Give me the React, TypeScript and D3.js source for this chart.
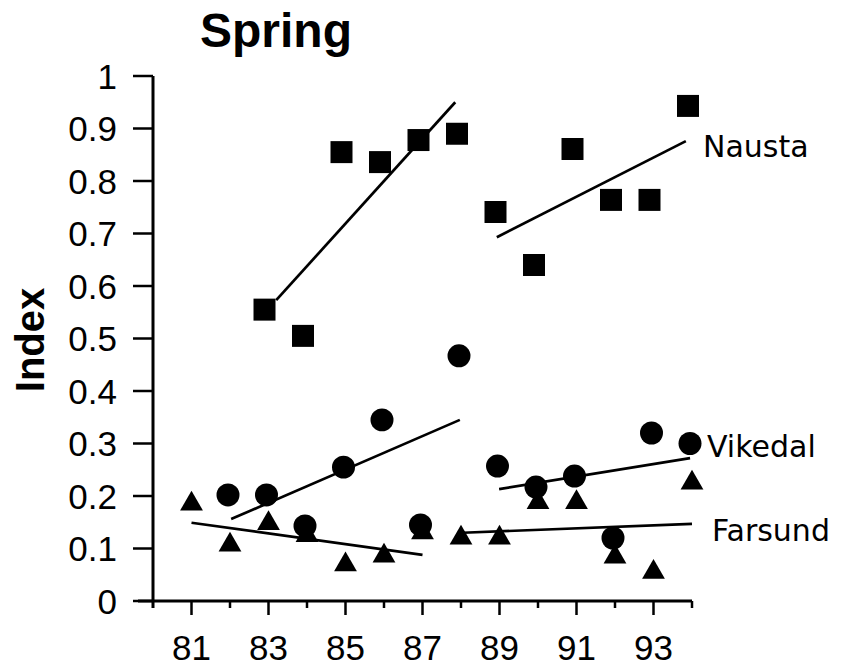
import { scaleLinear, symbol, symbolSquare, symbolCircle, symbolTriangle, range } from "d3";

const years = range(81, 95);
const nausta = [null, null, 0.555, 0.505, 0.855, 0.836, 0.878, 0.89, 0.741, 0.64, 0.861, 0.764, 0.764, 0.943];
const vikedal = [null, 0.202, 0.202, 0.143, 0.255, 0.345, 0.145, 0.467, 0.257, 0.217, 0.238, 0.12, 0.32, 0.3];
const farsund = [0.185, 0.107, 0.148, 0.125, 0.069, 0.086, 0.13, 0.12, 0.12, 0.188, 0.188, 0.084, 0.055, 0.225];

// trend segments: [x1, y1, x2, y2] in data units
const naustaTrends = [[83.2, 0.573, 87.85, 0.95], [88.93, 0.693, 93.84, 0.876]];
const vikedalTrends = [[82.03, 0.156, 87.97, 0.345], [88.99, 0.213, 93.95, 0.272]];
const farsundTrends = [[81.0, 0.149, 87.0, 0.088], [88.05, 0.13, 94.0, 0.147]];

const yTicks = [0, 0.1, 0.2, 0.3, 0.4, 0.5, 0.6, 0.7, 0.8, 0.9, 1];
const xLabels = [81, 83, 85, 87, 89, 91, 93];

export default function App() {
  const W = 843, H = 669;
  const x = scaleLinear().domain([80, 94]).range([153, 692]);
  const y = scaleLinear().domain([0, 1]).range([601, 76]);

  const sq = symbol(symbolSquare, 484)()!;
  const ci = symbol(symbolCircle, 415)()!;
  const tri = symbol(symbolTriangle, 225)()!;

  const pts = (vals: (number | null)[], path: string, dx = 0) =>
    vals.map((v, i) =>
      v == null ? null : (
        <path key={i} d={path} transform={`translate(${x(years[i]) + dx},${y(v)})`} fill="#000" />
      )
    );

  const trends = (segs: number[][]) =>
    segs.map((s, i) => (
      <line key={i} x1={x(s[0])} y1={y(s[1])} x2={x(s[2])} y2={y(s[3])} stroke="#000" strokeWidth={2.7} />
    ));

  const tickFont = "'Liberation Sans', Arial, Helvetica, sans-serif";
  const labelFont = "'DejaVu Sans', sans-serif";

  return (
    <svg width={W} height={H} style={{ position: "absolute", left: 0, top: 0, background: "#fff" }}>
      <text x={276} y={47} textAnchor="middle" fontFamily={tickFont} fontWeight="bold" fontSize={48}>
        Spring
      </text>
      <text
        transform="translate(44,340) rotate(-90)"
        textAnchor="middle"
        fontFamily={tickFont}
        fontWeight="bold"
        fontSize={40}
      >
        Index
      </text>

      {/* axes */}
      <line x1={153} y1={y(1)} x2={153} y2={608} stroke="#000" strokeWidth={3} />
      <line x1={138} y1={y(0)} x2={x(94)} y2={y(0)} stroke="#000" strokeWidth={3} />
      {yTicks.map((t) => (
        <g key={t}>
          <line x1={133} x2={153} y1={y(t)} y2={y(t)} stroke="#000" strokeWidth={2.5} />
          <text x={117} y={y(t)} dy="0.36em" textAnchor="end" fontFamily={tickFont} fontSize={35}>
            {t === 0 ? "0" : t === 1 ? "1" : t.toFixed(1)}
          </text>
        </g>
      ))}
      {years.map((yr) => (
        <line key={yr} x1={x(yr)} x2={x(yr)} y1={y(0)} y2={yr % 2 ? 615 : 608} stroke="#000" strokeWidth={2.5} />
      ))}
      {xLabels.map((yr) => (
        <text key={yr} x={x(yr)} y={660} textAnchor="middle" fontFamily={tickFont} fontSize={35}>
          {yr}
        </text>
      ))}

      {trends(naustaTrends)}
      {trends(vikedalTrends)}
      {trends(farsundTrends)}

      {pts(farsund, tri)}
      {pts(vikedal, ci, -2)}
      {pts(nausta, sq, -4)}

      <text x={703} y={157} fontFamily={labelFont} fontSize={30}>Nausta</text>
      <text x={707} y={457} fontFamily={labelFont} fontSize={30}>Vikedal</text>
      <text x={712} y={541} fontFamily={labelFont} fontSize={30}>Farsund</text>
    </svg>
  );
}
